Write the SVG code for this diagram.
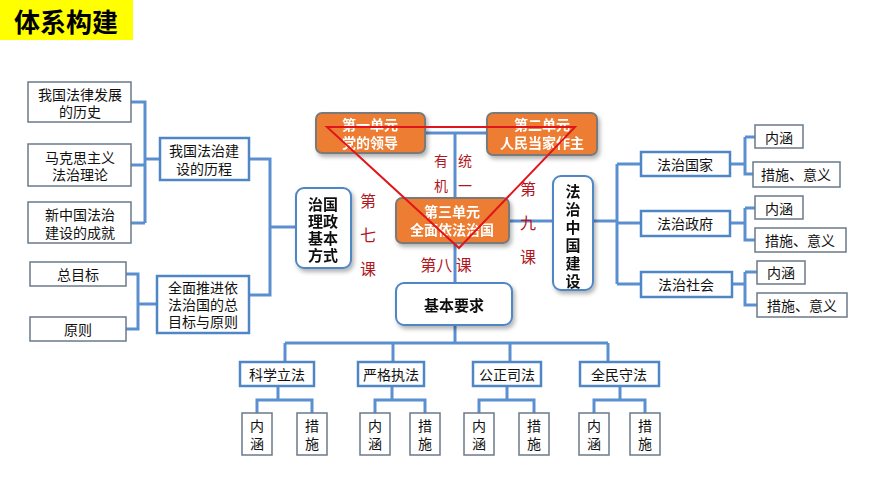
<svg xmlns="http://www.w3.org/2000/svg" width="870" height="489" viewBox="0 0 870 489">
<style>
text{font-family:"Noto Sans CJK SC","Liberation Sans",sans-serif;text-anchor:middle;dominant-baseline:central}
.g{fill:#fff;stroke:#6b7a8a;stroke-width:1.5}
.b{fill:#fff;stroke:#4f86c6;stroke-width:2.5}
.r{fill:#fff;stroke:#4f86c6;stroke-width:2}
.o{fill:#ed7d31;stroke:#7a7a7a;stroke-width:2}
.t{font-size:14px;fill:#111}
.ot{font-size:14px;fill:#fff;font-weight:bold}
.bt{font-size:15px;font-weight:bold;fill:#111}
.red{font-size:16px;fill:#b0171f}
.c{fill:none;stroke:#5b8fd0;stroke-width:3}
</style>
<defs><filter id="s" x="-20%" y="-20%" width="140%" height="140%"><feDropShadow dx="2" dy="3" stdDeviation="2" flood-color="#000" flood-opacity="0.3"/></filter></defs>
<rect width="870" height="489" fill="#fff"/>
<g id="title"><rect x="0" y="0" width="133" height="40" fill="#ffff00"/><text x="66" y="20" style="font-size:26px;font-weight:bold">体系构建</text></g>
<g id="connectors" class="c">
<path d="M131 102H145V223M131 165H145M131 223H145M145 159H160"/>
<path d="M249 159H270V295H249M270 227H296"/>
<path d="M126 274H138V329H126M138 304H157"/>
<path d="M425 133H487M455 133V198M455 243V283M509 221H553"/>
<path d="M593 221H617M617 164V284M617 164H641M617 223H641M617 284H641"/>
<path d="M730 164H745M745 137V174H755M745 137H755"/>
<path d="M730 223H745M745 208V240H755M745 208H755"/>
<path d="M732 284H745M745 272V305H757M745 272H757"/>
<path d="M455 325V343M285 343H608M285 343V362M393 343V362M510 343V362M608 343V362"/>
<path d="M278 386V400M257 413V400H312V413"/>
<path d="M392 386V400M375 413V400H425V413"/>
<path d="M507 386V400M479 413V400H534V413"/>
<path d="M620 386V400M594 413V400H645V413"/>
</g>
<g id="n1"><rect class="g" x="28" y="82" width="103" height="40"/><text class="t" x="80" y="94">我国法律发展</text><text class="t" x="80" y="111">的历史</text></g>
<g id="n2"><rect class="g" x="28" y="144" width="103" height="42"/><text class="t" x="80" y="157">马克思主义</text><text class="t" x="80" y="174">法治理论</text></g>
<g id="n3"><rect class="g" x="28" y="202" width="103" height="41"/><text class="t" x="80" y="214">新中国法治</text><text class="t" x="80" y="232">建设的成就</text></g>
<g id="n4"><rect class="g" x="30" y="262" width="96" height="24"/><text class="t" x="78" y="274">总目标</text></g>
<g id="n5"><rect class="g" x="30" y="317" width="96" height="24"/><text class="t" x="78" y="329">原则</text></g>
<g id="n6"><rect class="b" x="160" y="138" width="89" height="42"/><text class="t" x="204" y="150">我国法治建</text><text class="t" x="204" y="168">设的历程</text></g>
<g id="n7"><rect class="b" x="157" y="276" width="92" height="57"/><text class="t" x="203" y="287">全面推进依</text><text class="t" x="203" y="304">法治国的总</text><text class="t" x="203" y="321">目标与原则</text></g>
<g id="n8" filter="url(#s)"><rect class="r" x="296" y="188" width="55" height="80" rx="8"/><text class="bt" x="323" y="203">治国</text><text class="bt" x="323" y="220">理政</text><text class="bt" x="323" y="237">基本</text><text class="bt" x="323" y="254">方式</text></g>
<g id="u1" filter="url(#s)"><rect class="o" x="316" y="113" width="109" height="40" rx="6"/><text class="ot" x="370" y="124">第一单元</text><text class="ot" x="370" y="142">党的领导</text></g>
<g id="u2" filter="url(#s)"><rect class="o" x="487" y="113" width="110" height="42" rx="6"/><text class="ot" x="542" y="124">第二单元</text><text class="ot" x="542" y="142">人民当家作主</text></g>
<g id="u3" filter="url(#s)"><rect class="o" x="396" y="198" width="113" height="45" rx="6"/><text class="ot" x="452" y="211">第三单元</text><text class="ot" x="452" y="229">全面依法治国</text></g>
<g id="n9" filter="url(#s)"><rect class="r" x="553" y="176" width="40" height="114" rx="8"/><text class="bt" x="573" y="190">法</text><text class="bt" x="573" y="208">治</text><text class="bt" x="573" y="226">中</text><text class="bt" x="573" y="244">国</text><text class="bt" x="573" y="262">建</text><text class="bt" x="573" y="280">设</text></g>
<g id="n10" filter="url(#s)"><rect class="r" x="396" y="283" width="116" height="42" rx="8"/><text class="bt" x="454" y="304">基本要求</text></g>
<g id="labels">
<text class="red" x="368" y="200">第</text><text class="red" x="368" y="234">七</text><text class="red" x="368" y="268">课</text>
<text class="red" x="441" y="160" style="font-size:14px">有</text><text class="red" x="441" y="185" style="font-size:14px">机</text>
<text class="red" x="465" y="160" style="font-size:14px">统</text><text class="red" x="465" y="185" style="font-size:14px">一</text>
<text class="red" x="528" y="188">第</text><text class="red" x="528" y="222">九</text><text class="red" x="528" y="256">课</text>
<text class="red" x="446" y="264">第八 课</text>
</g>
<path id="triangle" d="M327 127H575L459 248Z" fill="none" stroke="#e0161c" stroke-width="2"/>
<g id="f1"><rect class="b" x="641" y="152" width="89" height="24"/><text class="t" x="685" y="164">法治国家</text></g>
<g id="f2"><rect class="b" x="641" y="211" width="89" height="25"/><text class="t" x="685" y="223">法治政府</text></g>
<g id="f3"><rect class="b" x="641" y="272" width="91" height="25"/><text class="t" x="686" y="284">法治社会</text></g>
<g id="f1a"><rect class="g" x="755" y="125" width="48" height="23"/><text class="t" x="779" y="137">内涵</text></g>
<g id="f1b"><rect class="g" x="753" y="162" width="87" height="25"/><text class="t" x="796" y="174">措施、意义</text></g>
<g id="f2a"><rect class="g" x="755" y="196" width="48" height="23"/><text class="t" x="779" y="208">内涵</text></g>
<g id="f2b"><rect class="g" x="755" y="228" width="91" height="24"/><text class="t" x="800" y="240">措施、意义</text></g>
<g id="f3a"><rect class="g" x="757" y="261" width="48" height="23"/><text class="t" x="781" y="272">内涵</text></g>
<g id="f3b"><rect class="g" x="757" y="293" width="90" height="24"/><text class="t" x="802" y="305">措施、意义</text></g>
<g id="b1"><rect class="b" x="240" y="362" width="74" height="24"/><text class="t" x="277" y="374">科学立法</text></g>
<g id="b2"><rect class="b" x="358" y="362" width="66" height="24"/><text class="t" x="391" y="374">严格执法</text></g>
<g id="b3"><rect class="b" x="473" y="362" width="68" height="24"/><text class="t" x="507" y="374">公正司法</text></g>
<g id="b4"><rect class="b" x="580" y="362" width="79" height="24"/><text class="t" x="619" y="374">全民守法</text></g>
<g id="s1"><rect class="g" x="242" y="413" width="30" height="42"/><text class="t" x="257" y="425">内</text><text class="t" x="257" y="443">涵</text></g>
<g id="s2"><rect class="g" x="297" y="413" width="30" height="42"/><text class="t" x="312" y="425">措</text><text class="t" x="312" y="443">施</text></g>
<g id="s3"><rect class="g" x="360" y="413" width="30" height="42"/><text class="t" x="375" y="425">内</text><text class="t" x="375" y="443">涵</text></g>
<g id="s4"><rect class="g" x="410" y="413" width="30" height="42"/><text class="t" x="425" y="425">措</text><text class="t" x="425" y="443">施</text></g>
<g id="s5"><rect class="g" x="464" y="413" width="30" height="42"/><text class="t" x="479" y="425">内</text><text class="t" x="479" y="443">涵</text></g>
<g id="s6"><rect class="g" x="519" y="413" width="30" height="42"/><text class="t" x="534" y="425">措</text><text class="t" x="534" y="443">施</text></g>
<g id="s7"><rect class="g" x="579" y="413" width="30" height="42"/><text class="t" x="594" y="425">内</text><text class="t" x="594" y="443">涵</text></g>
<g id="s8"><rect class="g" x="630" y="413" width="30" height="42"/><text class="t" x="645" y="425">措</text><text class="t" x="645" y="443">施</text></g>
</svg>
